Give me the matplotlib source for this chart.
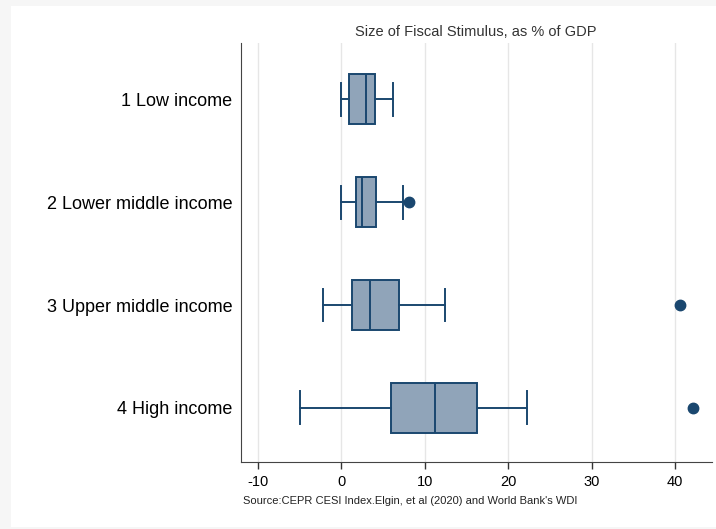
import matplotlib
matplotlib.use('Agg')
import matplotlib.pyplot as plt
from matplotlib.patches import Rectangle

plt.rcParams['font.family'] = ['Liberation Sans', 'DejaVu Sans']
plt.rcParams['axes.unicode_minus'] = False

# income groups, top to bottom
groups = ["1 Low income", "2 Lower middle income", "3 Upper middle income", "4 High income"]

# box summary per group (size of fiscal stimulus, % of GDP)
whisker_lo = [0.0, 0.0, -2.2, -5.0]
q1 = [0.9, 1.8, 1.3, 5.9]
median = [2.9, 2.5, 3.4, 11.2]
q3 = [4.0, 4.15, 6.9, 16.2]
whisker_hi = [6.2, 7.4, 12.4, 22.3]
outliers = [[], [8.1], [40.6], [42.1]]

ticks = [-10, 0, 10, 20, 30, 40]

navy = "#1a476f"
fill = "#90a4b9"

stats = []
for i, g in enumerate(groups):
    stats.append({"label": g, "whislo": whisker_lo[i], "q1": q1[i], "med": median[i],
                  "q3": q3[i], "whishi": whisker_hi[i], "fliers": outliers[i]})

fig = plt.figure(figsize=(7.16, 5.29), dpi=100)
fig.patch.set_facecolor("#f6f6f6")
# white panel behind everything
fig.patches.append(Rectangle((11 / 716, 1 - 527 / 529), 705 / 716, 521 / 529,
                             transform=fig.transFigure, facecolor="white",
                             edgecolor="none", zorder=-10))

ax = fig.add_axes([0.336, 0.126, 0.658, 0.793])
ax.set_facecolor("white")

positions = range(1, len(groups) + 1)
ax.bxp(stats, positions=positions, orientation="horizontal", widths=0.485,
       capwidths=0.32, patch_artist=True,
       boxprops=dict(facecolor=fill, edgecolor=navy, linewidth=1.4),
       medianprops=dict(color=navy, linewidth=1.4),
       whiskerprops=dict(color=navy, linewidth=1.4),
       capprops=dict(color=navy, linewidth=1.4),
       flierprops=dict(marker="o", markerfacecolor=navy, markeredgecolor=navy,
                       markersize=7.5, linestyle="none"),
       zorder=3)

ax.set_xlim(-12.1, 44.4)
ax.set_ylim(4.53, 0.45)
ax.set_xticks(ticks)
ax.set_xticklabels([str(t) for t in ticks], fontsize=10.5)
ax.set_yticks(list(positions))
ax.set_yticklabels(groups, fontsize=13)
ax.tick_params(axis="y", length=0, pad=6)
ax.tick_params(axis="x", length=5, width=1, color="#333333", pad=4)

ax.grid(axis="x", color="#e6e6e6", linewidth=1, zorder=0)
ax.set_axisbelow(True)
for side in ["top", "right"]:
    ax.spines[side].set_visible(False)
ax.spines["left"].set_color("#444444")
ax.spines["bottom"].set_color("#444444")

ax.set_title("Size of Fiscal Stimulus, as % of GDP", fontsize=10.5, color="#333333", pad=5)

fig.text(243 / 716, 1 - 501 / 529, "Source:CEPR CESI Index.Elgin, et al (2020) and World Bank's WDI",
         fontsize=8, color="#222222", va="center", ha="left")

fig.savefig("out.png", dpi=100, facecolor=fig.get_facecolor())
